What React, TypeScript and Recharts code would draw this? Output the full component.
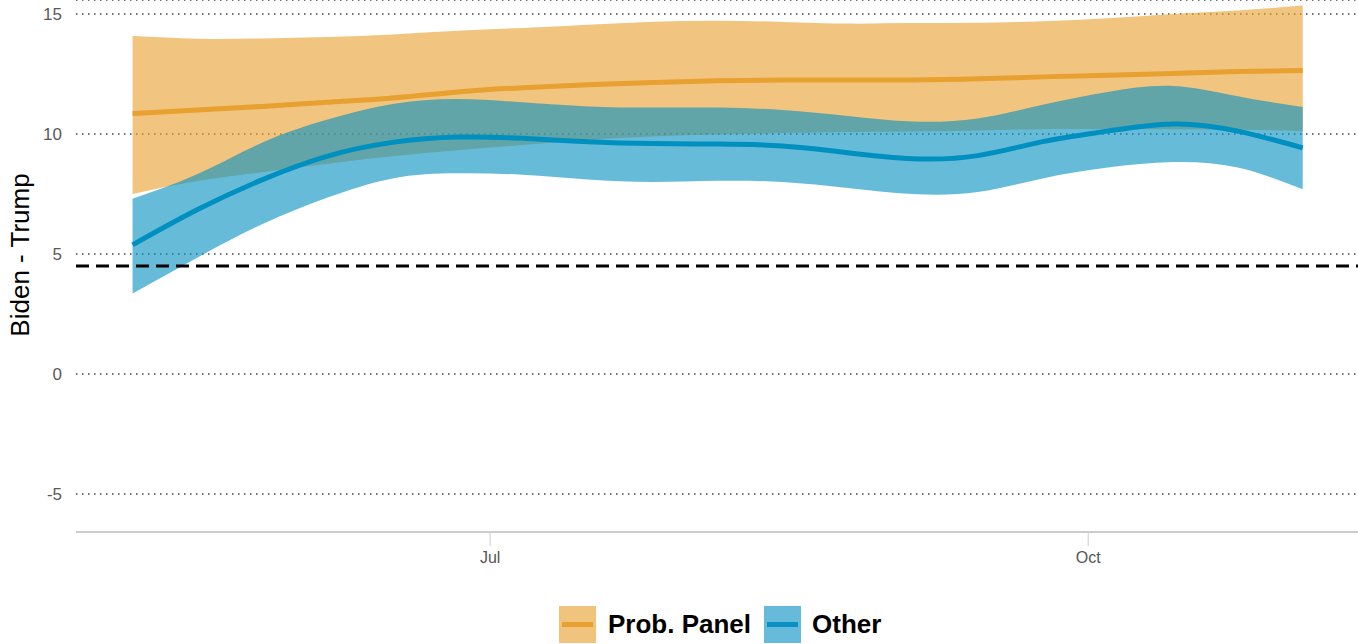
import { ComposedChart, Area, Line, XAxis, YAxis, CartesianGrid, ReferenceLine } from "recharts";

// days relative to Jul 1
const days = [-55, -45, -35, -25, -15, -5, 5, 15, 25, 35, 45, 55, 65, 75, 85, 95, 105, 115, 125];

const probMid = [10.85, 11.0, 11.15, 11.32, 11.5, 11.75, 11.93, 12.05, 12.15, 12.22, 12.25, 12.25, 12.25, 12.3, 12.38, 12.45, 12.52, 12.6, 12.65];
const probHigh = [14.08, 13.97, 13.98, 14.04, 14.15, 14.3, 14.42, 14.55, 14.68, 14.72, 14.67, 14.6, 14.62, 14.63, 14.7, 14.82, 15.0, 15.15, 15.35];
const probLow = [7.5, 8.04, 8.41, 8.76, 9.07, 9.32, 9.54, 9.75, 9.9, 9.98, 10.04, 10.08, 10.1, 10.15, 10.2, 10.2, 10.2, 10.18, 10.13];

const otherMid = [5.38, 6.85, 8.1, 9.08, 9.65, 9.87, 9.82, 9.68, 9.6, 9.58, 9.5, 9.22, 8.97, 9.1, 9.68, 10.12, 10.42, 10.12, 9.42];
const otherHigh = [7.3, 8.33, 9.65, 10.6, 11.25, 11.46, 11.32, 11.15, 11.1, 11.1, 11.0, 10.75, 10.52, 10.65, 11.22, 11.75, 12.0, 11.57, 11.12];
const otherLow = [3.35, 4.85, 6.25, 7.35, 8.15, 8.36, 8.3, 8.1, 8.0, 8.05, 8.0, 7.75, 7.5, 7.58, 8.15, 8.6, 8.83, 8.6, 7.7];

const yTicks = [-5, 0, 5, 10, 15];
const xTicks = [0, 92];
const xTickLabels = ["Jul", "Oct"];
const benchmark = 4.5;

const ORANGE = "#e8a030";
const BLUE = "#0891c2";
const FONT = "'Liberation Sans', Arial, sans-serif";

const data = days.map((day, i) => ({
  day,
  probMid: probMid[i],
  probBand: [probLow[i], probHigh[i]],
  otherMid: otherMid[i],
  otherBand: [otherLow[i], otherHigh[i]],
}));

const Swatch = ({ color }: { color: string }) => (
  <div style={{ width: 37, height: 37, background: color, position: "relative" }}>
    <div style={{ position: "absolute", inset: 0, background: "#fff", opacity: 0.38 }} />
    <div style={{ position: "absolute", left: 3, right: 3, top: 16, height: 5, background: color }} />
  </div>
);

export default function App() {
  return (
    <div style={{ position: "absolute", left: 0, top: 0, width: 1358, height: 644, background: "#fff", fontFamily: FONT }}>
      <ComposedChart width={1358} height={644} data={data} margin={{ top: 0, right: 0, bottom: 72, left: 0 }}>
        <CartesianGrid vertical={false} stroke="#444" strokeWidth={1.5} strokeDasharray="1.5 4.5" />
        <XAxis
          dataKey="day"
          type="number"
          domain={[-63.7, 133.5]}
          allowDataOverflow
          ticks={xTicks}
          tickFormatter={(v: number) => xTickLabels[xTicks.indexOf(v)]}
          height={40}
          stroke="#ccc"
          axisLine={{ stroke: "#ccc", strokeWidth: 2 }}
          tickLine={{ stroke: "#ccc", strokeWidth: 1 }}
          tickSize={14}
          tickMargin={6}
          tick={{ fill: "#555", fontSize: 16, fontFamily: FONT }}
        />
        <YAxis
          type="number"
          domain={[-6.583, 15.583]}
          allowDataOverflow
          ticks={yTicks}
          width={76}
          axisLine={false}
          tickLine={false}
          tickSize={0}
          tickMargin={14}
          tick={{ fill: "#595959", fontSize: 17, fontFamily: FONT }}
          label={{
            content: () => (
              <text transform="translate(29,255) rotate(-90)" textAnchor="middle" fontSize={26} fill="#000" fontFamily={FONT}>
                Biden - Trump
              </text>
            ),
          }}
        />
        <ReferenceLine y={benchmark} stroke="#000" strokeWidth={3} strokeDasharray="13 7" />
        <Area type="natural" dataKey="probBand" stroke="none" fill={ORANGE} fillOpacity={0.62} isAnimationActive={false} />
        <Area type="natural" dataKey="otherBand" stroke="none" fill={BLUE} fillOpacity={0.62} isAnimationActive={false} />
        <Line type="natural" dataKey="probMid" stroke={ORANGE} strokeWidth={5} dot={false} isAnimationActive={false} />
        <Line type="natural" dataKey="otherMid" stroke="#0090c0" strokeWidth={5} dot={false} isAnimationActive={false} />
      </ComposedChart>
      <div style={{ position: "absolute", left: 559, top: 606, display: "flex", alignItems: "center", height: 37 }}>
        <Swatch color={ORANGE} />
        <span style={{ marginLeft: 12, fontSize: 26, fontWeight: 700, color: "#000" }}>Prob. Panel</span>
        <div style={{ marginLeft: 13 }}>
          <Swatch color={BLUE} />
        </div>
        <span style={{ marginLeft: 11, fontSize: 26, fontWeight: 700, color: "#000" }}>Other</span>
      </div>
    </div>
  );
}
